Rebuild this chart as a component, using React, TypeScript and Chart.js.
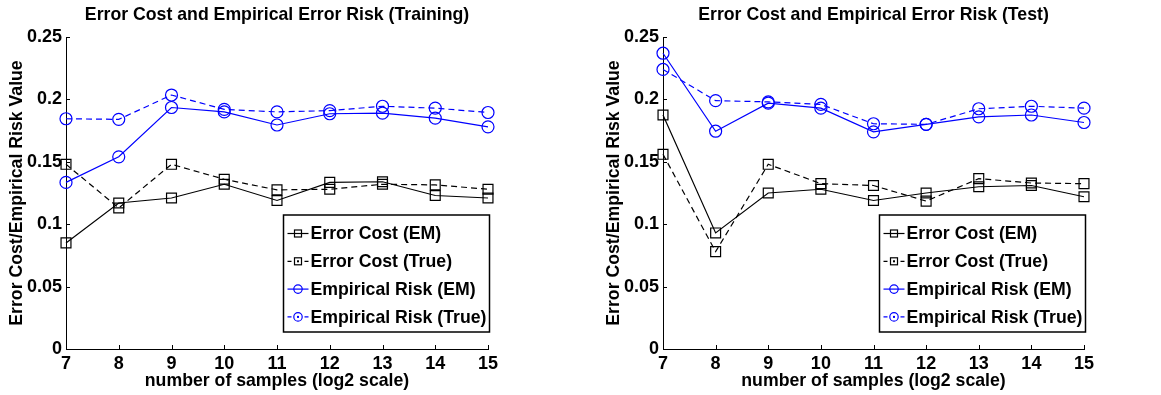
import React, { useEffect, useRef } from 'react';
import { Chart, registerables } from 'chart.js';

Chart.register(...registerables);

const FONT = '"Liberation Sans", Arial, Helvetica, sans-serif';
const TEXT_SIZE = 17.7;

const xLabels = ['7', '8', '9', '10', '11', '12', '13', '14', '15'];
const yTicks = [0, 0.05, 0.1, 0.15, 0.2, 0.25];
const yTickLabels = ['0', '0.05', '0.1', '0.15', '0.2', '0.25'];

const seriesNames = ['Error Cost (EM)', 'Error Cost (True)', 'Empirical Risk (EM)', 'Empirical Risk (True)'];

const trainCostEM = [0.085, 0.117, 0.121, 0.132, 0.119, 0.1335, 0.134, 0.123, 0.121];
const trainCostTrue = [0.148, 0.113, 0.148, 0.136, 0.1275, 0.128, 0.132, 0.1315, 0.128];
const trainRiskEM = [0.1335, 0.154, 0.1935, 0.19, 0.1795, 0.1885, 0.189, 0.185, 0.178];
const trainRiskTrue = [0.1845, 0.184, 0.2035, 0.192, 0.19, 0.191, 0.1945, 0.193, 0.1895];

const testCostEM = [0.1875, 0.093, 0.125, 0.128, 0.119, 0.125, 0.13, 0.131, 0.122];
const testCostTrue = [0.156, 0.078, 0.148, 0.1325, 0.131, 0.1185, 0.1365, 0.133, 0.1325];
const testRiskEM = [0.237, 0.1745, 0.197, 0.193, 0.174, 0.18, 0.186, 0.1875, 0.1815];
const testRiskTrue = [0.224, 0.199, 0.198, 0.196, 0.1805, 0.18, 0.1925, 0.1945, 0.193];

const styles = [
  { color: '#000000', dashed: false, marker: 'rect' },
  { color: '#000000', dashed: true, marker: 'rect' },
  { color: '#0000ff', dashed: false, marker: 'circle' },
  { color: '#0000ff', dashed: true, marker: 'circle' },
];

const DASH = [6, 4];

function makeDatasets(values: number[][]) {
  return values.map((data, i) => {
    const s = styles[i];
    return {
      label: seriesNames[i],
      data,
      borderColor: s.color,
      backgroundColor: 'rgba(0,0,0,0)',
      borderWidth: 1.2,
      borderDash: s.dashed ? DASH : [],
      pointStyle: s.marker,
      pointRadius: s.marker === 'rect' ? 7 : 6,
      pointBorderWidth: 1.2,
      pointBorderColor: s.color,
      pointBackgroundColor: 'rgba(0,0,0,0)',
      tension: 0,
      clip: false,
    };
  });
}

const titlePlugin = {
  id: 'matlabTitle',
  afterDraw(chart: any, _args: any, opts: any) {
    const { ctx, chartArea } = chart;
    ctx.save();
    ctx.fillStyle = '#000';
    ctx.font = `bold ${TEXT_SIZE}px ${FONT}`;
    ctx.textAlign = 'center';
    ctx.textBaseline = 'alphabetic';
    ctx.fillText(opts.text, (chartArea.left + chartArea.right) / 2, 20);
    ctx.restore();
  },
};

const inwardTicksPlugin = {
  id: 'inwardTicks',
  afterDraw(chart: any) {
    const { ctx, chartArea, scales } = chart;
    const len = 4;
    ctx.save();
    ctx.strokeStyle = '#000';
    ctx.lineWidth = 1;
    ctx.beginPath();
    scales.x.ticks.forEach((_t: any, i: number) => {
      const px = Math.round(scales.x.getPixelForTick(i)) + 0.5;
      ctx.moveTo(px, chartArea.bottom);
      ctx.lineTo(px, chartArea.bottom - len);
    });
    scales.y.ticks.forEach((_t: any, i: number) => {
      const py = Math.round(scales.y.getPixelForTick(i)) + 0.5;
      ctx.moveTo(chartArea.left, py);
      ctx.lineTo(chartArea.left + len, py);
    });
    ctx.stroke();
    ctx.restore();
  },
};

function drawMarker(ctx: CanvasRenderingContext2D, marker: string, x: number, y: number, color: string, dot: boolean) {
  ctx.save();
  ctx.strokeStyle = color;
  ctx.fillStyle = color;
  ctx.lineWidth = 1.2;
  ctx.setLineDash([]);
  if (marker === 'rect') {
    ctx.strokeRect(x - 3.5, y - 3.5, 7, 7);
  } else {
    ctx.beginPath();
    ctx.arc(x, y, 4.2, 0, Math.PI * 2);
    ctx.stroke();
  }
  if (dot) {
    ctx.fillRect(x - 1, y - 1, 2, 2);
  }
  ctx.restore();
}

const boxLegendPlugin = {
  id: 'boxLegend',
  afterDraw(chart: any) {
    const { ctx, chartArea } = chart;
    const w = 206;
    const h = 117;
    const right = chartArea.right + 1.5;
    const left = right - w;
    const bottom = chartArea.bottom - 17;
    const top = bottom - h;
    ctx.save();
    ctx.fillStyle = '#fff';
    ctx.fillRect(left, top, w, h);
    ctx.strokeStyle = '#000';
    ctx.lineWidth = 1.5;
    ctx.strokeRect(left, top, w, h);
    ctx.font = `bold ${TEXT_SIZE}px ${FONT}`;
    ctx.textBaseline = 'middle';
    ctx.textAlign = 'left';
    chart.data.datasets.forEach((ds: any, i: number) => {
      const s = styles[i];
      const y = top + 18.5 + i * 27.8;
      const x0 = left + 4;
      const x1 = left + 25;
      const mx = (x0 + x1) / 2;
      ctx.strokeStyle = s.color;
      ctx.lineWidth = 1.2;
      ctx.beginPath();
      if (s.dashed) {
        ctx.moveTo(x0, y);
        ctx.lineTo(x0 + 4, y);
        ctx.moveTo(x1 - 4, y);
        ctx.lineTo(x1, y);
      } else {
        ctx.moveTo(x0, y);
        ctx.lineTo(x1, y);
      }
      ctx.stroke();
      drawMarker(ctx, s.marker, mx, y, s.color, s.dashed);
      ctx.fillStyle = '#000';
      ctx.fillText(ds.label, left + 27, y + 1);
    });
    ctx.restore();
  },
};

function makeConfig(title: string, values: number[][], padLeft: number, padRight: number): any {
  return {
    type: 'line',
    data: { labels: xLabels, datasets: makeDatasets(values) },
    plugins: [titlePlugin, inwardTicksPlugin, boxLegendPlugin],
    options: {
      animation: false,
      responsive: false,
      events: [],
      layout: { padding: { top: 37, left: padLeft, right: padRight, bottom: 0 } },
      plugins: {
        legend: { display: false },
        title: { display: false },
        tooltip: { enabled: false },
        matlabTitle: { text: title },
      },
      scales: {
        x: {
          type: 'category',
          offset: false,
          grid: { display: true, drawOnChartArea: false, drawTicks: false, offset: false },
          border: { display: true, color: '#000', width: 1 },
          ticks: {
            color: '#000',
            font: { family: FONT, size: 18, weight: 'bold' },
            padding: 4,
            autoSkip: false,
            maxRotation: 0,
          },
          title: {
            display: true,
            text: 'number of samples (log2 scale)',
            color: '#000',
            font: { family: FONT, size: TEXT_SIZE, weight: 'bold' },
            padding: { top: 0, bottom: 3 },
          },
          afterFit: (s: any) => {
            s.height = 46;
          },
        },
        y: {
          type: 'linear',
          min: 0,
          max: 0.25,
          grid: { display: true, drawOnChartArea: false, drawTicks: false },
          border: { display: true, color: '#000', width: 1 },
          afterBuildTicks: (s: any) => {
            s.ticks = yTicks.map((v) => ({ value: v }));
          },
          ticks: {
            color: '#000',
            font: { family: FONT, size: 18, weight: 'bold' },
            padding: 4,
            callback: (_v: any, i: number) => yTickLabels[i],
          },
          title: {
            display: true,
            text: 'Error Cost/Empirical Risk Value',
            color: '#000',
            font: { family: FONT, size: TEXT_SIZE, weight: 'bold' },
            padding: { top: 6, bottom: 0 },
          },
          afterFit: (s: any) => {
            s.width = 66;
          },
        },
      },
    },
  };
}

function ChartPanel(props: { left: number; width: number; config: any }) {
  const ref = useRef<HTMLCanvasElement | null>(null);
  useEffect(() => {
    if (!ref.current) return;
    const chart = new Chart(ref.current, props.config);
    return () => chart.destroy();
  }, []);
  return (
    <div style={{ position: 'absolute', left: props.left, top: 0, width: props.width, height: 395 }}>
      <canvas ref={ref} width={props.width} height={395} style={{ width: props.width, height: 395, display: 'block' }} />
    </div>
  );
}

export default function App() {
  const trainCfg = makeConfig(
    'Error Cost and Empirical Error Risk (Training)',
    [trainCostEM, trainCostTrue, trainRiskEM, trainRiskTrue],
    0,
    92
  );
  const testCfg = makeConfig(
    'Error Cost and Empirical Error Risk (Test)',
    [testCostEM, testCostTrue, testRiskEM, testRiskTrue],
    17,
    77
  );
  return (
    <div style={{ position: 'fixed', left: 0, top: 0, width: 1161, height: 395, background: '#fff', overflow: 'hidden' }}>
      <ChartPanel left={0} width={580} config={trainCfg} />
      <ChartPanel left={580} width={581} config={testCfg} />
    </div>
  );
}
